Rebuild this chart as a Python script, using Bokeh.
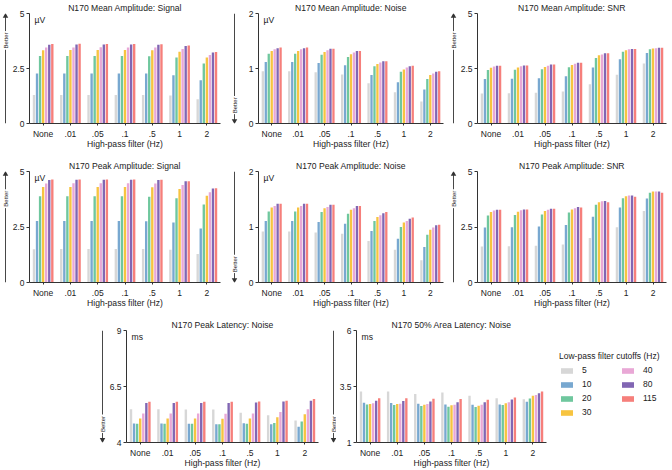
import math
from bokeh.plotting import figure
from bokeh.layouts import column, row
from bokeh.models import (ColumnDataSource, FactorRange, Range1d, FixedTicker, Label,
                          Legend, LegendItem, Spacer)
from bokeh.core.properties import value
from bokeh.transform import dodge
from bokeh.embed import file_html
from bokeh.resources import INLINE

# ---------------- data ----------------
hp_filters = ["None", ".01", ".05", ".1", ".5", "1", "2"]
lp_cutoffs = ["5", "10", "20", "30", "40", "80", "115"]
lp_colors = ["#d7d7d7", "#78a8d0", "#6fc79e", "#f7c440", "#e9a8d6", "#8166b3", "#f67f7b"]

# each row = one low-pass cutoff (5,10,20,30,40,80,115); columns = high-pass filters
mean_amp_signal = [
    [1.29, 1.30, 1.30, 1.30, 1.30, 1.27, 1.10],
    [2.27, 2.27, 2.27, 2.27, 2.27, 2.19, 1.97],
    [3.07, 3.07, 3.07, 3.07, 3.06, 3.00, 2.73],
    [3.33, 3.34, 3.34, 3.34, 3.33, 3.26, 3.00],
    [3.46, 3.46, 3.47, 3.46, 3.45, 3.39, 3.11],
    [3.58, 3.59, 3.59, 3.59, 3.58, 3.52, 3.23],
    [3.61, 3.62, 3.61, 3.61, 3.60, 3.55, 3.25],
]
mean_amp_noise = [
    [0.95, 0.95, 0.93, 0.89, 0.73, 0.57, 0.40],
    [1.12, 1.12, 1.10, 1.06, 0.88, 0.75, 0.62],
    [1.27, 1.27, 1.25, 1.21, 1.04, 0.94, 0.81],
    [1.32, 1.32, 1.30, 1.26, 1.08, 0.98, 0.88],
    [1.35, 1.35, 1.33, 1.29, 1.11, 1.02, 0.91],
    [1.37, 1.37, 1.36, 1.32, 1.13, 1.04, 0.94],
    [1.38, 1.38, 1.36, 1.32, 1.13, 1.05, 0.95],
]
mean_amp_snr = [
    [1.36, 1.37, 1.40, 1.46, 1.78, 2.22, 2.73],
    [2.02, 2.03, 2.06, 2.15, 2.54, 2.92, 3.20],
    [2.43, 2.44, 2.47, 2.56, 2.98, 3.26, 3.38],
    [2.53, 2.54, 2.57, 2.66, 3.10, 3.33, 3.41],
    [2.59, 2.60, 2.62, 2.72, 3.14, 3.38, 3.42],
    [2.63, 2.64, 2.68, 2.76, 3.19, 3.39, 3.44],
    [2.63, 2.64, 2.68, 2.76, 3.19, 3.39, 3.44],
]
peak_amp_signal = [
    [1.50, 1.51, 1.51, 1.51, 1.51, 1.47, 1.28],
    [2.77, 2.77, 2.77, 2.77, 2.76, 2.70, 2.43],
    [3.88, 3.88, 3.88, 3.88, 3.86, 3.80, 3.51],
    [4.30, 4.30, 4.30, 4.30, 4.29, 4.21, 3.91],
    [4.46, 4.47, 4.47, 4.47, 4.46, 4.39, 4.07],
    [4.62, 4.63, 4.63, 4.63, 4.62, 4.56, 4.23],
    [4.64, 4.64, 4.64, 4.64, 4.63, 4.56, 4.24],
]
peak_amp_noise = [
    [0.92, 0.92, 0.90, 0.88, 0.75, 0.59, 0.40],
    [1.11, 1.11, 1.09, 1.06, 0.93, 0.79, 0.64],
    [1.28, 1.28, 1.27, 1.24, 1.11, 1.00, 0.86],
    [1.35, 1.35, 1.34, 1.31, 1.18, 1.08, 0.95],
    [1.38, 1.38, 1.36, 1.34, 1.21, 1.11, 0.99],
    [1.42, 1.42, 1.40, 1.38, 1.25, 1.15, 1.03],
    [1.42, 1.42, 1.40, 1.38, 1.27, 1.17, 1.04],
]
peak_amp_snr = [
    [1.62, 1.63, 1.65, 1.71, 2.01, 2.49, 3.22],
    [2.48, 2.49, 2.52, 2.59, 2.96, 3.38, 3.78],
    [3.02, 3.04, 3.06, 3.15, 3.50, 3.80, 4.04],
    [3.18, 3.19, 3.22, 3.29, 3.62, 3.88, 4.10],
    [3.24, 3.25, 3.28, 3.35, 3.66, 3.92, 4.10],
    [3.28, 3.29, 3.32, 3.40, 3.67, 3.92, 4.10],
    [3.28, 3.29, 3.32, 3.38, 3.62, 3.86, 4.04],
]
peak_latency_noise = [
    [5.48, 5.48, 5.47, 5.47, 5.33, 5.22, 4.98],
    [4.85, 4.85, 4.84, 4.82, 4.86, 4.81, 4.70],
    [4.84, 4.84, 4.84, 4.82, 4.84, 4.87, 4.94],
    [5.07, 5.07, 5.07, 5.06, 5.07, 5.13, 5.26],
    [5.29, 5.29, 5.29, 5.28, 5.29, 5.36, 5.48],
    [5.76, 5.76, 5.76, 5.76, 5.79, 5.83, 5.86],
    [5.82, 5.82, 5.82, 5.82, 5.83, 5.86, 5.94],
]
area_latency_noise = [
    [3.28, 3.28, 3.17, 3.23, 3.09, 2.98, 2.93],
    [2.78, 2.76, 2.73, 2.70, 2.69, 2.70, 2.82],
    [2.70, 2.67, 2.63, 2.60, 2.58, 2.67, 2.96],
    [2.72, 2.72, 2.69, 2.66, 2.64, 2.75, 3.09],
    [2.75, 2.73, 2.72, 2.69, 2.69, 2.80, 3.12],
    [2.86, 2.85, 2.83, 2.80, 2.80, 2.92, 3.20],
    [2.97, 2.97, 2.95, 2.94, 2.91, 3.01, 3.28],
]

ticks_amp5 = [0, 2.5, 5]
ticks_amp5_labels = ["0", "2.5", "5"]
ticks_amp2 = [0, 1, 2]
ticks_amp2_labels = ["0", "1", "2"]
ticks_peak_lat = [4, 6.5, 9]
ticks_peak_lat_labels = ["4", "6.5", "9"]
ticks_area_lat = [1, 3.5, 6]
ticks_area_lat_labels = ["1", "3.5", "6"]

FONT = "Liberation Sans"
TXT = "#222222"
AX = "#333333"
BAR_PITCH = 0.112
BAR_WIDTH = 0.087


def add_bars(p, src):
    n = len(lp_cutoffs)
    rends = []
    for j, (lp, col) in enumerate(zip(lp_cutoffs, lp_colors)):
        off = (j - (n - 1) / 2) * BAR_PITCH
        r = p.vbar(x=dodge("hp", off, range=p.x_range), top="lp" + lp, bottom="base",
                   width=BAR_WIDTH, source=src, fill_color=col, line_color=None)
        rends.append(r)
    return rends


def make_panel(title, values, yticks, ylabels, unit, width, height, top, left, right):
    p = figure(width=width, height=height,
               x_range=FactorRange(*hp_filters, range_padding=0),
               y_range=Range1d(yticks[0], yticks[-1]),
               output_backend="svg", toolbar_location=None,
               min_border_left=left, min_border_right=right,
               min_border_top=top, min_border_bottom=20)
    data = {"hp": hp_filters, "base": [yticks[0]] * len(hp_filters)}
    for lp, vals in zip(lp_cutoffs, values):
        data["lp" + lp] = vals
    src = ColumnDataSource(data)
    add_bars(p, src)

    p.xgrid.visible = False
    p.ygrid.visible = False
    p.outline_line_color = None
    p.background_fill_color = "white"

    p.title.text = title
    p.title.align = "center"
    p.title.text_font = FONT
    p.title.text_font_size = "8.6px"
    p.title.text_font_style = "normal"
    p.title.text_color = TXT
    p.title.standoff = 1

    ya = p.yaxis[0]
    ya.ticker = FixedTicker(ticks=yticks)
    ya.major_label_overrides = {t: l for t, l in zip(yticks, ylabels)}
    ya.axis_line_color = AX
    ya.major_tick_line_color = AX
    ya.major_tick_out = 3
    ya.major_tick_in = 0
    ya.minor_tick_line_color = None
    ya.major_label_text_font = FONT
    ya.major_label_text_font_size = "8.5px"
    ya.major_label_text_color = TXT
    ya.major_label_standoff = 2

    xa = p.xaxis[0]
    xa.axis_line_color = AX
    xa.major_tick_line_color = AX
    xa.major_tick_out = 2
    xa.major_tick_in = 0
    xa.major_label_text_font = FONT
    xa.major_label_text_font_size = "8.5px"
    xa.major_label_text_color = TXT
    xa.major_label_standoff = 3
    xa.axis_label = "High-pass filter (Hz)"
    xa.axis_label_text_font = FONT
    xa.axis_label_text_font_size = "8.6px"
    xa.axis_label_text_font_style = "normal"
    xa.axis_label_text_color = TXT
    xa.axis_label_standoff = -3

    if unit:
        p.add_layout(Label(x=5, x_units="screen", y=yticks[-1], y_units="data", text=unit,
                           text_font=FONT, text_font_size="8.6px", text_color=TXT,
                           text_baseline="top", text_align="left", y_offset=-1))
    return p, src


def make_better(width, line_x, up, height, top):
    """Narrow strip left of a panel holding the 'Better' arrow."""
    a = figure(width=width, height=height, x_range=Range1d(0, width), y_range=Range1d(0, 1),
               output_backend="svg", toolbar_location=None,
               x_axis_location=None, y_axis_location=None,
               min_border_left=0, min_border_right=0, min_border_top=top, min_border_bottom=28)
    a.grid.visible = False
    a.outline_line_color = None
    if up:
        a.segment(x0=[line_x, line_x], y0=[0.0, 0.84], x1=[line_x, line_x], y1=[0.67, 0.985],
                  line_color=AX, line_width=0.9)
        a.scatter(x=[line_x], y=[0.975], marker="triangle", size=5.5, fill_color=AX, line_color=None)
        ty = 0.755
    else:
        a.segment(x0=[line_x, line_x], y0=[1.0, 0.085], x1=[line_x, line_x], y1=[0.25, 0.02],
                  line_color=AX, line_width=0.9)
        a.scatter(x=[line_x], y=[0.025], marker="inverted_triangle", size=5.5, fill_color=AX, line_color=None)
        ty = 0.165
    a.text(x=[line_x], y=[ty], text=["Better"], angle=math.pi / 2,
           text_font=value(FONT), text_font_size="6px", text_color=TXT,
           text_align="center", text_baseline="middle")
    return a


H1, H2, H3 = 151, 159, 160
T1, T2, T3 = 12, 20, 20

p1, _ = make_panel("N170 Mean Amplitude: Signal", mean_amp_signal, ticks_amp5, ticks_amp5_labels, "\u00b5V", 214, H1, T1, 16, 3)
p2, _ = make_panel("N170 Mean Amplitude: Noise", mean_amp_noise, ticks_amp2, ticks_amp2_labels, "\u00b5V", 208, H1, T1, 19, 4)
p3, _ = make_panel("N170 Mean Amplitude: SNR", mean_amp_snr, ticks_amp5, ticks_amp5_labels, "", 213, H1, T1, 18, 4)
p4, _ = make_panel("N170 Peak Amplitude: Signal", peak_amp_signal, ticks_amp5, ticks_amp5_labels, "\u00b5V", 214, H2, T2, 16, 3)
p5, _ = make_panel("N170 Peak Amplitude: Noise", peak_amp_noise, ticks_amp2, ticks_amp2_labels, "\u00b5V", 208, H2, T2, 19, 4)
p6, _ = make_panel("N170 Peak Amplitude: SNR", peak_amp_snr, ticks_amp5, ticks_amp5_labels, "", 213, H2, T2, 18, 4)
p7, _ = make_panel("N170 Peak Latency: Noise", peak_latency_noise, ticks_peak_lat, ticks_peak_lat_labels, "ms", 216, H3, T3, 16, 4)
p8, src8 = make_panel("N170 50% Area Latency: Noise", area_latency_noise, ticks_area_lat, ticks_area_lat_labels, "ms", 216, H3, T3, 16, 6)

# legend panel: its bar renderers are hidden; only the legend swatches show
pl = figure(width=118, height=H3, x_range=FactorRange(*hp_filters), y_range=Range1d(-2, -1),
            output_backend="svg", toolbar_location=None,
            x_axis_location=None, y_axis_location=None,
            min_border_left=0, min_border_right=0, min_border_bottom=28, min_border_top=T3)
pl.grid.visible = False
pl.outline_line_color = None
leg_rends = add_bars(pl, src8)
for r in leg_rends:
    r.visible = False
items = [LegendItem(label=value(lp), renderers=[r]) for lp, r in zip(lp_cutoffs, leg_rends)]
leg = Legend(items=items, title="Low-pass filter cutoffs (Hz)", ncols=2, orientation="vertical",
             location=(7, 25),
             label_text_font=FONT, label_text_font_size="8.5px", label_text_color=TXT,
             title_text_font=FONT, title_text_font_size="8.5px", title_text_font_style="normal",
             title_text_color=TXT, title_standoff=4,
             glyph_width=15, glyph_height=7, label_standoff=8, label_height=10, label_width=34,
             spacing=4, padding=0, margin=0, border_line_color=None, background_fill_alpha=0)
pl.add_layout(leg)

row1 = row(make_better(9, 5, True, H1, T1), p1, make_better(16, 11, False, H1, T1), p2,
           make_better(10, 6, True, H1, T1), p3)
row2 = row(make_better(9, 5, True, H2, T2), p4, make_better(16, 11, False, H2, T2), p5,
           make_better(10, 6, True, H2, T2), p6)
row3 = row(Spacer(width=96, height=H3), make_better(10, 6, False, H3, T3), p7,
           make_better(14, 11, False, H3, T3), p8, pl)
layout = column(row1, row2, row3)

with open("out.html", "w") as f:
    f.write(file_html(layout, INLINE))
